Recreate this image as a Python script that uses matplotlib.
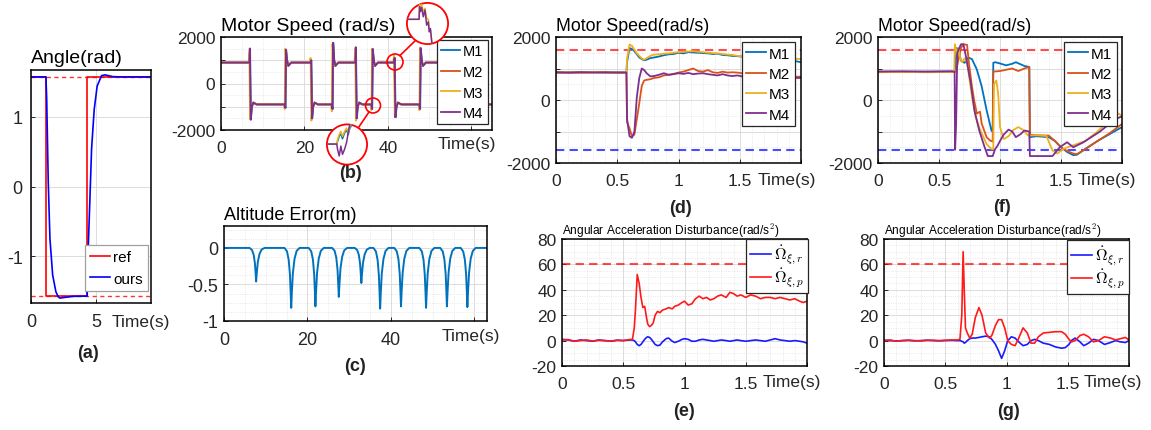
import numpy as np
import matplotlib
matplotlib.use('Agg')
import matplotlib.pyplot as plt
from matplotlib.patches import Circle
from matplotlib.ticker import MultipleLocator

plt.rcParams['font.family'] = ['Liberation Sans', 'DejaVu Sans']
plt.rcParams['mathtext.fontset'] = 'cm'
plt.rcParams['axes.unicode_minus'] = False

W, H = 1151, 431
C1, C2, C3, C4 = '#0072BD', '#D95319', '#EDB120', '#7E2F8E'
motor_names = ['M1', 'M2', 'M3', 'M4']

# ---------------- (a) angle tracking ----------------
a_ref_t = [0, 1.15, 1.15, 4.33, 4.33, 9.25]
a_ref = [1.571, 1.571, -1.571, -1.571, 1.571, 1.571]
a_ours_t = [0, 1.15, 1.21, 1.33, 1.46, 1.67, 1.92, 2.1, 2.23, 2.6, 3.2, 4.33,
            4.41, 4.54, 4.67, 4.87, 5.1, 5.44, 5.7, 6.3, 7.0, 9.25]
a_ours = [1.571, 1.571, 1.25, 0.06, -0.75, -1.27, -1.51, -1.58, -1.6, -1.59, -1.575, -1.571,
          -0.89, -0.18, 0.54, 1.1, 1.44, 1.59, 1.6, 1.575, 1.571, 1.571]
a_bounds = [1.571, -1.571]

# ---------------- (b) motor speed, long run ----------------
b_level = 900
b_tend = 65
b_switch_t = [6.9, 15.5, 21.6, 26.8, 32.3, 36.3, 41.6, 47.8, 52.9]
b_hi = [1500, 1450, 1000, 1750, 1550, 1480, 1100, 1520, 1100]
b_lo = [-1550, -1050, -1500, -1100, -1500, -1100, -1450, -1100, -1500]
b_hi_m3 = [1300, 1500, 1100, 1700, 1450, 1500, 1200, 1550, 1200]
b_lo_m3 = [-1500, -1100, -1600, -1200, -1600, -1150, -1350, -1150, -1550]
b_shift = [0.08, 0.0, -0.12, 0.03]
b_drop_tail_dt = [0.45, 0.8, 1.6]
b_drop_tail_v = [-1000, -820, -900]
b_rise_tail_dt = [0.3, 0.6, 1.3]
b_rise_tail_v = [1000, 760, 900]

# magnified views (normalised inside the bubbles)
up_t = [0.0, 0.30, 0.31, 0.33, 0.36, 0.40, 0.44, 0.48, 0.52, 0.54, 0.57, 0.60, 0.62]
up_M4 = [0.60, 0.60, 0.90, 0.78, 0.88, 0.66, 0.82, 0.46, 0.54, 0.30, 0.38, 0.06, 0.0]
up_M3 = [0.60, 0.60, 0.96, 0.86, 0.96, 0.78, 0.86, 0.62, 0.60, 0.40, 0.34, 0.10, 0.0]
lo_t = [0.0, 0.25, 0.27, 0.31, 0.35, 0.39, 0.44, 0.49, 0.53, 0.57, 0.62, 0.66]
lo_M1 = [0.51, 0.51, 0.58, 0.70, 0.76, 0.64, 0.78, 0.86, 0.74, 0.90, 0.98, 1.1]
lo_M3 = [0.51, 0.51, 0.62, 0.74, 0.82, 0.70, 0.82, 0.90, 0.78, 0.94, 1.02, 1.1]
lo_M4 = [0.51, 0.51, 0.38, 0.22, 0.46, 0.26, 0.38, 0.55, 0.80, 1.0, 1.1, 1.1]

# ---------------- (c) altitude error ----------------
c_tend = 63
c_dip_t = [7.7, 16.1, 21.9, 27.5, 32.9, 37.4, 42.4, 48.4, 53.4, 58.3]
c_dip_depth = [-0.46, -0.82, -0.80, -0.67, -0.48, -0.83, -0.80, -0.82, -0.80, -0.81]
c_shape_dt = [-1.6, -1.0, -0.6, -0.3, -0.1, 0.0, 0.15, 0.4, 0.8, 1.3, 2.0]
c_shape = [0, 0.06, 0.2, 0.45, 0.8, 1.0, 0.75, 0.42, 0.18, 0.05, 0]

# ---------------- (d) motor speed, case 1 ----------------
d_t = [0, 0.1, 0.2, 0.3, 0.4, 0.5, 0.575, 0.58, 0.6, 0.62,
       0.64, 0.66, 0.68, 0.7, 0.72, 0.74, 0.77, 0.8, 0.84, 0.88,
       0.92, 0.96, 1.0, 1.04, 1.08, 1.12, 1.16, 1.2, 1.24, 1.28,
       1.32, 1.36, 1.4, 1.44, 1.48, 1.52, 1.56, 1.6, 1.64, 1.68,
       1.72, 1.76, 1.8, 1.84, 1.88, 1.92, 1.96, 2.0]
d_M1 = [880, 875, 885, 880, 875, 880, 880, 1200, 1650, 1620,
        1550, 1450, 1350, 1300, 1260, 1280, 1330, 1350, 1380, 1420,
        1450, 1460, 1500, 1480, 1520, 1510, 1500, 1490, 1480, 1460,
        1470, 1430, 1420, 1400, 1390, 1380, 1360, 1350, 1340, 1320,
        1300, 1290, 1280, 1280, 1260, 1250, 1230, 1200]
d_M2 = [860, 870, 865, 875, 870, 865, 870, -700, -900, -1150,
        -1100, -600, -100, 450, 620, 640, 660, 700, 720, 780,
        800, 830, 870, 900, 950, 1000, 920, 900, 950, 880,
        860, 900, 870, 880, 870, 850, 870, 820, 830, 800,
        780, 800, 760, 770, 750, 760, 740, 740]
d_M3 = [870, 880, 870, 885, 880, 870, 870, 1300, 1760, 1720,
        1600, 1480, 1400, 1320, 1280, 1330, 1400, 1440, 1450, 1470,
        1480, 1500, 1520, 1530, 1540, 1550, 1530, 1520, 1500, 1490,
        1480, 1460, 1440, 1430, 1400, 1390, 1370, 1350, 1340, 1330,
        1320, 1330, 1330, 1320, 1300, 1310, 1310, 1300]
d_M4 = [880, 870, 880, 875, 880, 870, 870, -600, -1150, -1200,
        -1000, 100, 700, 1000, 950, 850, 750, 760, 800, 850,
        800, 820, 850, 830, 860, 820, 840, 850, 820, 800,
        780, 820, 780, 760, 780, 750, 770, 740, 700, 720,
        700, 700, 720, 700, 680, 700, 700, 700]
speed_limits = [1600, -1600]

# ---------------- (f) motor speed, case 2 ----------------
f_M1_t = [0, 0.2, 0.4, 0.6, 0.63, 0.645, 0.66, 0.68, 0.71, 0.74, 0.77, 0.81, 0.85,
          0.89, 0.93, 0.94, 0.945, 0.96, 1.0, 1.05, 1.1, 1.13, 1.2, 1.24, 1.245,
          1.3, 1.4, 1.45, 1.5, 1.55, 1.6, 1.63, 1.7, 1.8, 1.9, 2.0]
f_M1 = [900, 890, 900, 900, 900, 1650, 1600, 1250, 1180, 1345, 1300, 970, 430,
        -320, -970, -1000, 1180, 1200, 1160, 1100, 1150, 1200, 1080, 1050, -1180,
        -1150, -1180, -1300, -1500, -1650, -1750, -1740, -1550, -1300, -1080, -860]
f_M2_t = [0, 0.2, 0.4, 0.6, 0.64, 0.66, 0.68, 0.7, 0.73, 0.745, 0.77, 0.79, 0.81,
          0.836, 0.85, 0.89, 0.92, 0.94, 0.945, 1.0, 1.05, 1.1, 1.15, 1.2, 1.24,
          1.245, 1.3, 1.4, 1.45, 1.5, 1.55, 1.6, 1.63, 1.7, 1.8, 1.9, 2.0]
f_M2 = [900, 900, 890, 900, 900, 1300, 1650, 1770, 1750, 1180, 430, -50, -430,
        -370, -750, -1180, -1290, -1320, 900, 920, 960, 1000, 920, 1000, 1050,
        -1100, -1120, -1130, -1300, -1500, -1620, -1700, -1720, -1560, -1300, -1050, -760]
f_M3_t = [0, 0.2, 0.4, 0.6, 0.625, 0.63, 0.64, 0.65, 0.66, 0.675, 0.69, 0.71, 0.73,
          0.77, 0.8, 0.84, 0.89, 0.93, 0.945, 0.951, 0.97, 0.985, 1.0, 1.03, 1.07,
          1.11, 1.15, 1.19, 1.23, 1.3, 1.38, 1.43, 1.47, 1.52, 1.59, 1.7, 1.8,
          1.88, 1.93, 1.97, 2.0]
f_M3 = [880, 890, 880, 890, 880, 1770, 1600, 1450, 1650, 1300, 1200, 1320, 1200,
        110, -540, -970, -1400, -1560, -1560, 500, 620, 200, -860, -1240, -1150,
        -950, -860, -950, -1130, -1120, -1140, -1600, -1700, -1550, -1450, -1300, -1000,
        -700, -540, -430, -500]
f_M4_t = [0, 0.2, 0.4, 0.6, 0.628, 0.632, 0.64, 0.65, 0.68, 0.7, 0.72, 0.76, 0.79,
          0.83, 0.87, 0.9, 0.94, 0.96, 0.98, 1.0, 1.03, 1.07, 1.1, 1.13, 1.17,
          1.2, 1.24, 1.245, 1.43, 1.49, 1.55, 1.6, 1.68, 1.76, 1.82, 1.9, 1.95, 2.0]
f_M4 = [900, 910, 900, 910, 900, -1580, -800, 1500, 1770, 1770, 1400, 540, -320,
        -970, -1450, -1780, -1780, -1560, -1450, -1300, -1100, -940, -1000, -1180, -1080,
        -970, -1000, -1780, -1780, -1500, -1340, -1500, -1350, -1150, -1000, -750, -600, -520]

# ---------------- (e) / (g) angular acceleration disturbance ----------------
e_t = [0, 0.05, 0.1, 0.15, 0.2, 0.25, 0.3, 0.35, 0.4, 0.45,
       0.5, 0.55, 0.575, 0.59, 0.6, 0.614, 0.63, 0.645, 0.66, 0.675,
       0.69, 0.7, 0.715, 0.73, 0.745, 0.76, 0.78, 0.8, 0.82, 0.85,
       0.87, 0.9, 0.92, 0.95, 0.98, 1.0, 1.03, 1.06, 1.09, 1.12,
       1.15, 1.18, 1.21, 1.24, 1.27, 1.3, 1.34, 1.37, 1.4, 1.43,
       1.46, 1.5, 1.54, 1.58, 1.62, 1.66, 1.7, 1.74, 1.78, 1.82,
       1.86, 1.9, 1.94, 1.97, 2.0]
e_roll = [1, 0.5, -0.5, 0.5, 0, -0.5, 0.5, 0, -0.5, 0.3,
          0, 0.5, 0.5, 0, -1, -3, -4, -3, -1, 1,
          2.5, 3, 2.5, 1, -1, -3, -4, -3.5, -1, 1.5,
          2, -0.5, -1.5, -0.5, 1, 1.5, 1, -0.5, -0.5, 0.5,
          1, 0.5, 0, -0.5, 0, 0.5, 0, -0.5, 0, 0.5,
          0, -0.5, 0, 0.5, 0, -0.5, 0.5, 1.5, 0.5, 0,
          -0.5, 0, -0.5, -1, -2]
e_pitch = [0.5, 0.8, -0.5, 0, 0.5, -0.3, 0.2, 0, -0.4, 0.3,
           0, 0.8, 1, 10, 25, 52, 45, 34, 26, 27,
           18, 13, 11, 12, 14, 20, 23, 22, 24, 25,
           26, 25, 27, 28, 30, 31, 28, 29, 33, 35,
           33, 34, 32, 33, 35, 36, 34, 38, 37, 35,
           36, 34, 36, 35, 33, 34, 34, 33, 34, 33,
           32, 33, 31, 30, 31]
g_t = [0, 0.05, 0.1, 0.15, 0.2, 0.25, 0.3, 0.35, 0.4, 0.45,
       0.5, 0.55, 0.6, 0.62, 0.635, 0.646, 0.655, 0.665, 0.68, 0.7,
       0.72, 0.745, 0.775, 0.8, 0.83, 0.86, 0.88, 0.91, 0.935, 0.96,
       0.985, 1.01, 1.04, 1.07, 1.1, 1.135, 1.17, 1.2, 1.23, 1.26,
       1.3, 1.35, 1.4, 1.45, 1.48, 1.51, 1.53, 1.56, 1.6, 1.63,
       1.67, 1.71, 1.75, 1.8, 1.85, 1.89, 1.93, 1.97, 2.0]
g_roll = [0.3, 0, -0.3, 0, 0.2, -0.2, 0, 0.3, 0, -0.2,
          0, 0.2, 0, 0, -0.5, -1, -2, -1.5, 0, 1.5,
          2, 2, 2.5, 3, 3.5, 3, 1, -3, -8, -14,
          -8, 0, 3, 2, -1, -4, -3, 0, 1, 0,
          -2, -3, -5, -6, -5.5, -3, 0, 2, -1, -4,
          -2, 1, 0, -3, -1.5, 0, -1, -1.5, 0]
g_pitch = [0, 0.5, -0.5, 0, 0.3, 0, -0.3, 0.2, 0.3, 0,
           0.3, 0.5, 0.5, 1, 20, 70, 40, 10, 6, 2,
           5, 18, 26, 20, 6, 2, 4, 12, 16.5, 16.5,
           10, 0, -3, -4, 2, 10, 6, -2, -2, 3,
           6, 6.5, 7, 7, 5, 1, -1, 0, 4, 5,
           3, -1, 0, 3, 2, 0.5, 1.5, 2.5, 0.5]
acc_limit = 60


def rect(x0, y0, x1, y1):
    return [x0 / W, 1 - y1 / H, (x1 - x0) / W, (y1 - y0) / H]


def style(ax, xlim, ylim, xt, xl, yt, yl, xminor=None, yminor=None, fs=12.5, ypad=4):
    ax.set_xlim(xlim)
    ax.set_ylim(ylim)
    ax.set_xticks(xt)
    ax.set_xticklabels(xl)
    ax.set_yticks(yt)
    ax.set_yticklabels(yl)
    if xminor:
        ax.xaxis.set_minor_locator(MultipleLocator(xminor))
    if yminor:
        ax.yaxis.set_minor_locator(MultipleLocator(yminor))
    ax.grid(True, which='major', color='#dcdcdc', lw=0.7)
    ax.grid(True, which='minor', color='#e2e2e2', lw=0.6, ls=':')
    ax.tick_params(which='both', direction='in', labelsize=fs, colors='#262626')
    ax.tick_params(which='minor', length=0)
    ax.tick_params(which='major', length=3, width=0.7)
    ax.tick_params(axis='x', pad=7)
    ax.tick_params(axis='y', pad=ypad)
    for s in ax.spines.values():
        s.set_linewidth(1.1)
        s.set_color('black')
    ax.set_axisbelow(True)


def put_legend(ax, loc, x, y, fs, edge='#262626', hl=1.3, ls=0.35, bp=0.3):
    leg = ax.legend(loc=loc, bbox_to_anchor=(x / W, 1 - y / H), bbox_transform=fig.transFigure,
                    borderaxespad=0, fontsize=fs, frameon=True, fancybox=False, framealpha=1,
                    handlelength=hl, handletextpad=0.2, labelspacing=ls, borderpad=bp)
    leg.get_frame().set_edgecolor(edge)
    leg.get_frame().set_linewidth(0.9)
    return leg


def ftext(x, y, s, **kw):
    fig.text(x / W, 1 - y / H, s, **kw)


fig = plt.figure(figsize=(W / 100, H / 100), dpi=100)

# (a)
ax = fig.add_axes(rect(31, 71, 151, 304))
for b in a_bounds:
    ax.axhline(b, color='red', lw=1.0, ls=(0, (3, 2.5)), alpha=0.8)
ax.plot(a_ref_t, a_ref, color='#ff0000', lw=1.2, label='ref')
ax.plot(a_ours_t, a_ours, color='#0000ff', lw=1.2, label='ours')
style(ax, (0, 9.25), (-1.67, 1.67), [0, 5], ['0', '5'], [-1, 0, 1], ['-1', '0', '1'], fs=13, ypad=6)
ax.set_title('Angle(rad)', loc='left', fontsize=14, pad=6)
put_legend(ax, 'lower right', 148, 292, 11, edge='#a0a0a0', ls=0.5, bp=0.35)

# (b)
axb = fig.add_axes(rect(221, 38, 492, 131))
b_his = [b_hi, b_hi, b_hi_m3, b_hi]
b_los = [b_lo, b_lo, b_lo_m3, b_lo]
for i, (c, name) in enumerate(zip([C1, C2, C3, C4], motor_names)):
    t, v = [0], [b_level]
    for k, ts in enumerate(b_switch_t):
        s = ts + b_shift[i]
        if k % 2 == 0:
            t += [s - 0.15, s, s + 0.2] + [s + d for d in b_drop_tail_dt]
            v += [b_level, b_his[i][k], b_los[i][k]] + b_drop_tail_v
        else:
            t += [s - 0.3, s - 0.1, s + 0.05] + [s + d for d in b_rise_tail_dt]
            v += [-b_level, b_los[i][k], b_his[i][k]] + b_rise_tail_v
    t.append(b_tend)
    v.append(-b_level)
    axb.plot(t, v, color=c, lw=1.3, label=name)
style(axb, (0, b_tend), (-2000, 2000), [0, 20, 40, 60], ['0', '20', '40', ''],
      [-2000, -1000, 0, 1000, 2000], ['-2000', '', '0', '', '2000'], xminor=5, yminor=500)
axb.set_title('Motor Speed (rad/s)', loc='left', fontsize=14, pad=5)
put_legend(axb, 'upper right', 488, 41, 10.5, ls=0.45)

# (c)
axc = fig.add_axes(rect(224, 227, 487, 322))
c_t, c_v = [0], [0]
for tc, dep in zip(c_dip_t, c_dip_depth):
    c_t += [tc + d for d in c_shape_dt]
    c_v += [dep * s for s in c_shape]
c_t.append(c_tend)
c_v.append(0)
axc.plot(c_t, c_v, color=C1, lw=1.4)
style(axc, (0, c_tend), (-1, 0.3), [0, 20, 40, 60], ['0', '20', '40', ''],
      [-1, -0.5, 0], ['-1', '-0.5', '0'], xminor=5, yminor=0.125, fs=13)
axc.set_title('Altitude Error(m)', loc='left', fontsize=13, pad=5)

# (d) and (f)
d_series = [(d_t, d_M1), (d_t, d_M2), (d_t, d_M3), (d_t, d_M4)]
f_series = [(f_M1_t, f_M1), (f_M2_t, f_M2), (f_M3_t, f_M3), (f_M4_t, f_M4)]
for box, series, leg_xy in [((556, 38, 801, 164), d_series, (795, 43)),
                            ((878, 38, 1122, 164), f_series, (1117, 43))]:
    ax = fig.add_axes(rect(*box))
    ax.axhline(speed_limits[0], color='red', lw=1.5, ls=(0, (4, 2.5)), alpha=0.7)
    ax.axhline(speed_limits[1], color='blue', lw=1.5, ls=(0, (4, 2.5)), alpha=0.7)
    for (t, v), c, name in zip(series, [C1, C2, C3, C4], motor_names):
        ax.plot(t, v, color=c, lw=1.3, label=name)
    style(ax, (0, 2), (-2000, 2000), [0, 0.5, 1, 1.5, 2], ['0', '0.5', '1', '1.5', ''],
          [-2000, -1000, 0, 1000, 2000], ['-2000', '', '0', '', '2000'], xminor=0.1, yminor=500)
    ax.set_title('Motor Speed(rad/s)', loc='left', fontsize=12.8, pad=5)
    put_legend(ax, 'upper right', leg_xy[0], leg_xy[1], 11, ls=0.42)

# (e) and (g)
for box, t, roll, pitch, leg_xy in [((562, 240, 807, 367), e_t, e_roll, e_pitch, (808, 240)),
                                    ((884, 240, 1129, 367), g_t, g_roll, g_pitch, (1129, 241))]:
    ax = fig.add_axes(rect(*box))
    ax.axhline(acc_limit, color='red', lw=1.5, ls=(0, (4, 2.5)), alpha=0.7)
    ax.plot(t, roll, color='#1a1aff', lw=1.2, label=r'$\dot{\Omega}_{\xi,r}$')
    ax.plot(t, pitch, color='#ff1a1a', lw=1.2, label=r'$\dot{\Omega}_{\xi,p}$')
    style(ax, (0, 2), (-20, 80), [0, 0.5, 1, 1.5, 2], ['0', '0.5', '1', '1.5', ''],
          [-20, 0, 20, 40, 60, 80], ['-20', '0', '20', '40', '60', '80'], xminor=0.1, yminor=5)
    ax.set_title(r'Angular Acceleration Disturbance(rad/s$^2$)', loc='left', fontsize=8.6, pad=3)
    put_legend(ax, 'upper right', leg_xy[0], leg_xy[1], 11.5, hl=1.3, ls=0.0, bp=0.25)

# Time(s) labels
for x, y in [(112, 323), (438, 145), (442, 337), (758, 180), (763, 383), (1078, 180), (1084, 383)]:
    ftext(x, y, 'Time(s)', fontsize=12.5, va='center', ha='left', color='#262626')

# panel letters
for x, y, s in [(88, 354, '(a)'), (351, 173, '(b)'), (355, 367, '(c)'), (680, 209, '(d)'),
                (684, 412, '(e)'), (1002, 208, '(f)'), (1009, 412, '(g)')]:
    ftext(x, y, s, fontsize=13, fontweight='bold', ha='center', va='center', color='#222222')

# magnifier bubbles on (b)
ov = fig.add_axes([0, 0, 1, 1])
ov.set_xlim(0, W)
ov.set_ylim(H, 0)
ov.axis('off')
ov.set_zorder(5)
for cx, cy, r in [(395, 63, 8), (373, 106.5, 7.5)]:
    ov.add_patch(Circle((cx, cy), r, fill=False, ec='red', lw=1.2))
ov.plot([400, 416.5], [56.5, 40.5], color='red', lw=1.2)
ov.plot([369, 358.5], [113, 128.5], color='red', lw=1.2)

for box, t, lines in [((406.5, 3.5, 448.5, 45.5), up_t, [(up_M3, C3), (up_M4, C4)]),
                      ((326.5, 125, 367.5, 166), lo_t, [(lo_M1, C1), (lo_M3, C3), (lo_M4, C4)])]:
    ins = fig.add_axes(rect(*box))
    ins.set_zorder(6)
    ins.set_xlim(0, 1)
    ins.set_ylim(0, 1)
    ins.axis('off')
    bg = Circle((0.5, 0.5), 0.5, transform=ins.transAxes, fc='white', ec='none')
    ins.add_patch(bg)
    for v, c in lines:
        ln, = ins.plot(t, v, color=c, lw=1.1)
        ln.set_clip_path(bg)
    ins.add_patch(Circle((0.5, 0.5), 0.49, transform=ins.transAxes, fill=False, ec='red', lw=1.3,
                         clip_on=False))

fig.savefig('out.png', dpi=100)
